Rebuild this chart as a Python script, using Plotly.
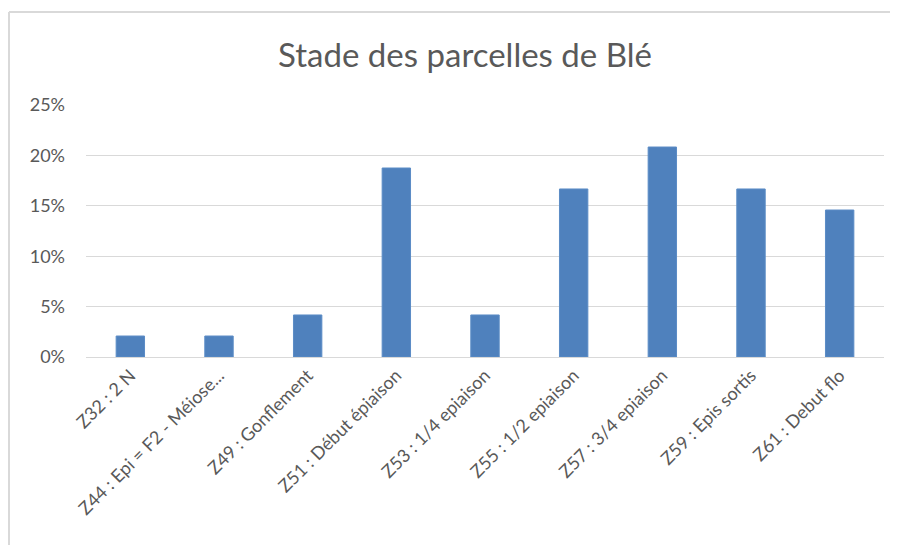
import plotly.graph_objects as go

categories = ["Z32 : 2 N", "Z44 : Epi = F2 - Méiose...", "Z49 : Gonflement",
              "Z51 : Début épiaison", "Z53 : 1/4 epiaison", "Z55 : 1/2 epiaison",
              "Z57 : 3/4 epiaison", "Z59 : Epis sortis", "Z61 : Debut flo"]
values = [0.0208, 0.0208, 0.0417, 0.1875, 0.0417, 0.1667, 0.2083, 0.1667, 0.1458]
tick_vals = [0, 0.05, 0.10, 0.15, 0.20, 0.25]
tick_text = ["0%", "5%", "10%", "15%", "20%", "25%"]

# page body has an 8px default margin; figure is sized to fill the rest
W, H = 890, 537
L, R, T, B = 78, 14, 97, 188
pw, ph = W - L - R, H - T - B

fig = go.Figure(go.Bar(x=categories, y=values, marker=dict(color="#4F81BD",
                line=dict(color="#5B8CC6", width=1))))

frame_x0 = (1 - L) / pw
frame_x1 = (W - L) / pw
frame_y0 = -B / ph
frame_y1 = 1 + (T - 4) / ph

fig.update_layout(
    width=W, height=H, margin=dict(l=L, r=R, t=T, b=B),
    paper_bgcolor="white", plot_bgcolor="white",
    bargap=0.68, showlegend=False,
    font=dict(family="Lato, Open Sans, sans-serif", color="#595959", size=18),
    title=dict(text="Stade des parcelles de Blé", x=457 / W, xanchor="center",
               y=1 - 47 / H, yanchor="middle", xref="container", yref="container",
               font=dict(size=33, color="#595959")),
    xaxis=dict(tickangle=-45, showgrid=False, showline=True, linecolor="#D9D9D9",
               linewidth=1, ticks="", tickfont=dict(size=18, color="#595959")),
    yaxis=dict(range=[0, 0.25], tickvals=tick_vals, ticktext=tick_text,
               showgrid=True, gridcolor="#D9D9D9", gridwidth=1, zeroline=False,
               showline=False, ticks="", ticklabelstandoff=20,
               tickfont=dict(size=18, color="#595959")),
    shapes=[
        dict(type="line", xref="paper", yref="paper", x0=frame_x0, x1=frame_x1,
             y0=frame_y1, y1=frame_y1, line=dict(color="#D9D9D9", width=2), layer="below"),
        dict(type="line", xref="paper", yref="paper", x0=frame_x0, x1=frame_x0,
             y0=frame_y0, y1=frame_y1, line=dict(color="#D9D9D9", width=2), layer="below"),
    ],
)

fig.write_html("out.html")
